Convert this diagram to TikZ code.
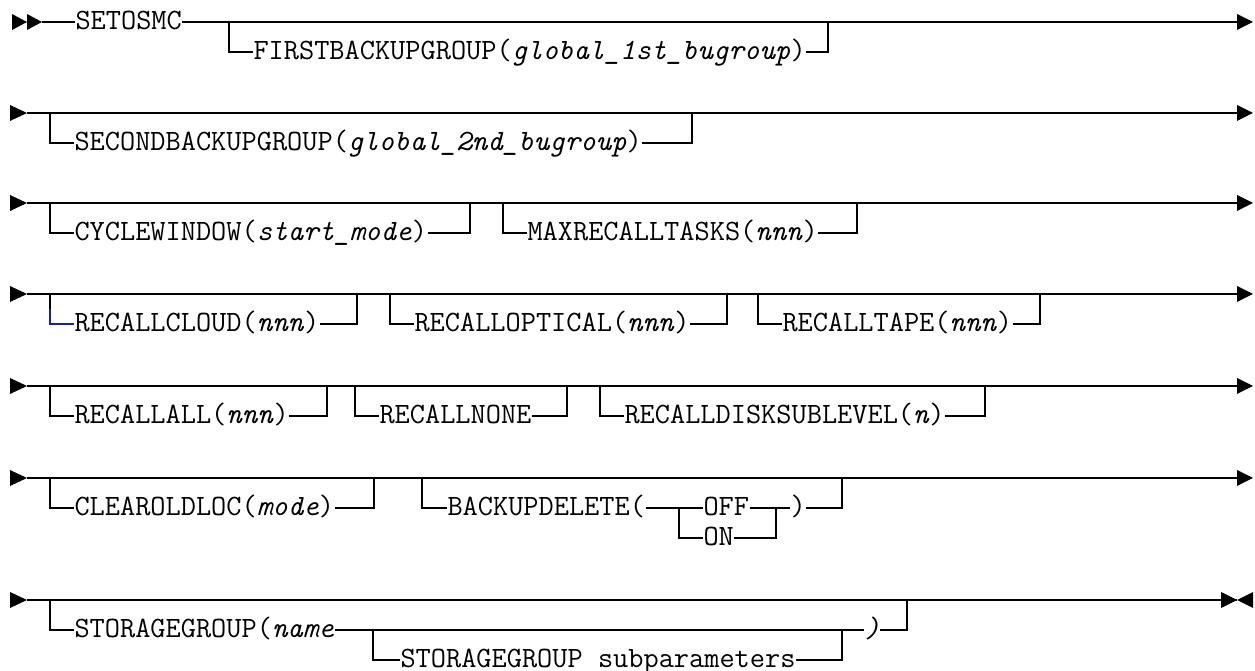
\documentclass[tikz,border=0pt]{standalone}
\usepackage{fontspec}
\usetikzlibrary{positioning}
\definecolor{railblue}{RGB}{20,30,190}
\tikzset{
    rail/.style={line width=0.8pt, black},
    railtip/.style={fill=black},
    railtxt/.style={anchor=west, inner sep=0pt, text height=0.81em, text depth=0.2em,
        font=\ttfamily\fontsize{11.8}{14}\selectfont},
}

\begin{document}
\begin{tikzpicture}[x=0.4pt,y=-0.4pt]
  \useasboundingbox (0,0) rectangle (1255,671);
  % Row 1: start of statement
  \fill[railtip] (12,14) -- (27,22) -- (12,30) -- cycle;
  \fill[railtip] (27,14) -- (42,22) -- (27,30) -- cycle;
  \fill[railtip] (1237,14) -- (1253,22) -- (1237,30) -- cycle;
  \coordinate (s1) at (42,22);
  \coordinate (e1) at (1237,22);
  \node[railtxt] (setosmc) at (75,22) {SETOSMC};
  \draw[rail] (s1) -- (setosmc.west);
  \draw[rail] (setosmc.east) -- (e1);
  % Rows 2-6: continued lines
  \foreach \r/\y in {2/113,3/203,4/294,5/386,6/478}{
    \coordinate (s\r) at (27,\y);
    \coordinate (e\r) at (1237,\y);
    \fill[railtip] (10,\y-8) -- (27,\y) -- (10,\y+8) -- cycle;
    \fill[railtip] (1237,\y-8) -- (1253,\y) -- (1237,\y+8) -- cycle;
    \draw[rail] (s\r) -- (e\r);
  }
  % Row 7: end of statement
  \fill[railtip] (10,592) -- (27,600) -- (10,608) -- cycle;
  \fill[railtip] (1221,592) -- (1237,600) -- (1221,608) -- cycle;
  \fill[railtip] (1253,592) -- (1237,600) -- (1253,608) -- cycle;
  \coordinate (s7) at (27,600);
  \coordinate (e7) at (1237,600);
  \draw[rail] (s7) -- (e7);
  % optional keywords
  \foreach \n/\y/\xl/\xr/\txt in {
      fbg/22/229/828/{FIRSTBACKUPGROUP(\textit{global\_1st\_bugroup})},
      sbg/113/50/692/{SECONDBACKUPGROUP(\textit{global\_2nd\_bugroup})},
      cyw/203/50/470/{CYCLEWINDOW(\textit{start\_mode})},
      mrt/203/503/857/{MAXRECALLTASKS(\textit{nnn})},
      rop/294/390/727/{RECALLOPTICAL(\textit{nnn})},
      rtp/294/758/1040/{RECALLTAPE(\textit{nnn})},
      rall/386/50/327/{RECALLALL(\textit{nnn})},
      rnone/386/355/567/{RECALLNONE},
      rdsl/386/600/985/{RECALLDISKSUBLEVEL(\textit{n})},
      cold/478/50/374/{CLEAROLDLOC(\textit{mode})}}{
    \coordinate (\n-a) at (\xl,\y);
    \coordinate (\n-b) at (\xr,\y);
    \node[railtxt] (\n) at (\xl+24,\y+30) {\txt};
    \draw[rail] (\n-a) |- (\n.west);
    \draw[rail] (\n.east) -| (\n-b);
  }
  % RECALLCLOUD (blue corner)
  \coordinate (rcl-a) at (50,294);
  \coordinate (rcl-m) at (50,309);
  \coordinate (rcl-b) at (357,294);
  \node[railtxt] (rcl) at (74,324) {RECALLCLOUD(\textit{nnn})};
  \draw[rail] (rcl-a) -- (rcl-m);
  \draw[rail, railblue] (rcl-m) |- (rcl.west);
  \draw[rail] (rcl.east) -| (rcl-b);
  % BACKUPDELETE with OFF / ON
  \coordinate (bdel-a) at (422,478);
  \coordinate (bdel-b) at (842,478);
  \node[railtxt] (bdel) at (447,508) {BACKUPDELETE(};
  \node[railtxt] (off) at (703,508) {OFF};
  \node[railtxt] (bdclose) at (790,508) {)};
  \node[railtxt] (on) at (703,538) {ON};
  \coordinate (on-a) at (679,508);
  \coordinate (on-b) at (776,508);
  \draw[rail] (bdel-a) |- (bdel.west);
  \draw[rail] (bdel.east) -- (off.west);
  \draw[rail] (off.east) -- (bdclose.west);
  \draw[rail] (on-a) |- (on.west);
  \draw[rail] (on.east) -| (on-b);
  \draw[rail] (bdclose.east) -| (bdel-b);
  % STORAGEGROUP with subparameters
  \coordinate (sgrp-a) at (50,600);
  \coordinate (sgrp-b) at (907,600);
  \node[railtxt] (sgrp) at (74,630) {STORAGEGROUP(\textit{name}};
  \node[railtxt] (sgclose) at (864,630) {\textit{)}};
  \node[railtxt] (sgsub) at (400,660) {STORAGEGROUP subparameters};
  \coordinate (sub-a) at (373,630);
  \coordinate (sub-b) at (842,630);
  \draw[rail] (sgrp-a) |- (sgrp.west);
  \draw[rail] (sgrp.east) -- (sgclose.west);
  \draw[rail] (sub-a) |- (sgsub.west);
  \draw[rail] (sgsub.east) -| (sub-b);
  \draw[rail] (sgclose.east) -| (sgrp-b);
\end{tikzpicture}
\end{document}
